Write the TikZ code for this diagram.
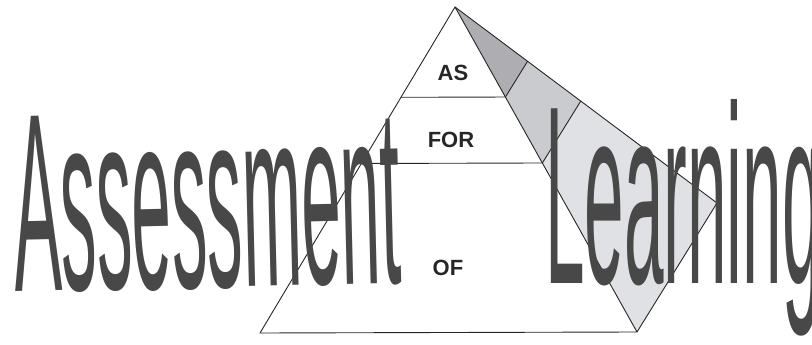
\documentclass[tikz,border=0pt]{standalone}
\usepackage{fontspec}
\setmainfont{Liberation Sans}
\usepackage{pdfrender}
\usetikzlibrary{calc}
\definecolor{faceTop}{HTML}{AEAEB2}
\definecolor{faceMid}{HTML}{CACBCE}
\definecolor{faceLow}{HTML}{E0E1E4}
\definecolor{inkline}{HTML}{262626}
\definecolor{letterfill}{HTML}{484848}
\newcommand{\outlined}[1]{\textpdfrender{TextRenderingMode=FillStroke,LineWidth=2.5,FillColor=letterfill,StrokeColor=black}{\color{letterfill}#1}}
\begin{document}
\begin{tikzpicture}[x=1pt,y=-1pt,
  edge/.style={draw=inkline,line width=0.9pt,line join=round},
  lbl/.style={font=\fontsize{22}{22}\selectfont\bfseries, text=inkline, inner sep=0pt},
  big/.style={font=\fontsize{254}{254}\selectfont, text=letterfill, inner sep=0pt, xscale=0.28}]
\useasboundingbox (0,0) rectangle (812,345);
\clip (0,0) rectangle (812,345);
% pyramid corners
\coordinate (A)  at (455,7);
\coordinate (BL) at (260,333);
\coordinate (BR) at (637,332);
\coordinate (R)  at (717,203);
% layer points
\coordinate (L1) at ($(A)!0.277!(BL)$);
\coordinate (R1) at ($(A)!0.277!(BR)$);
\coordinate (S1) at ($(A)!0.277!(R)$);
\coordinate (L2) at ($(A)!0.48!(BL)$);
\coordinate (R2) at ($(A)!0.48!(BR)$);
\coordinate (S2) at ($(A)!0.48!(R)$);
% side face fills
\fill[faceTop] (A) -- (R1) -- (S1) -- cycle;
\fill[faceMid] (R1) -- (R2) -- (S2) -- (S1) -- cycle;
\fill[faceLow] (R2) -- (BR) -- (R) -- (S2) -- cycle;
% outlines
\draw[edge] (A) -- (BL) -- (BR) -- cycle;
\draw[edge] (A) -- (R) -- (BR);
\draw[edge] (L1) -- (R1) -- (S1);
\draw[edge] (L2) -- (R2) -- (S2);
% layer labels
\node[lbl] (as)  at (453,73)  {AS};
\node[lbl] (for) at (451,140) {FOR};
\node[lbl] (of)  at (448,268) {OF};
% big words
\node[rotate=1.4, big, anchor=base west] (assess) at (15,292) {\outlined{Assessment}};
\node[big, anchor=base west] (learn) at (545,283) {\outlined{Learning}};
\end{tikzpicture}
\end{document}
